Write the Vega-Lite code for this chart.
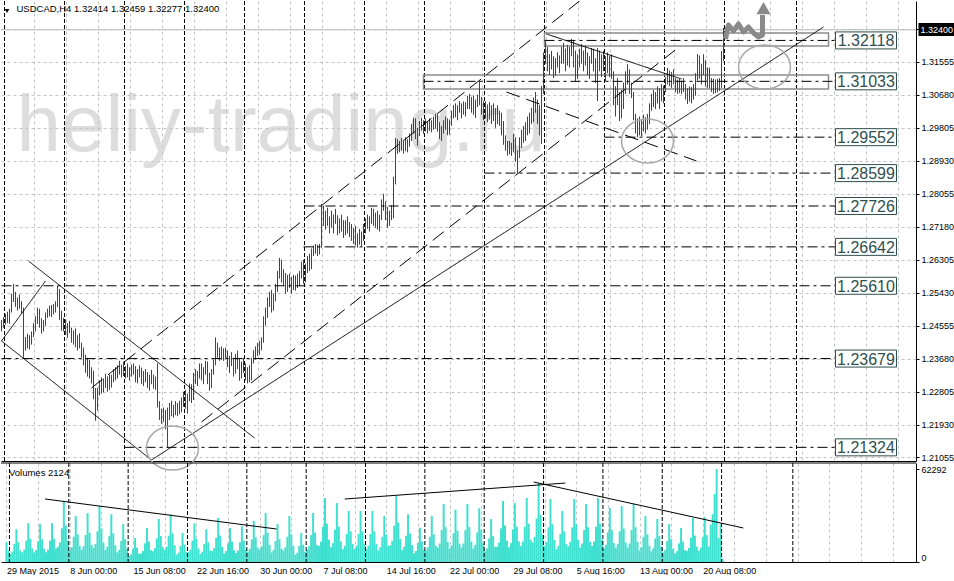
{
"$schema":"https://vega.github.io/schema/vega-lite/v6.json",
"padding":0,
"background":"white",
"spacing":2,
"bounds":"flush",
"config":{"view":{"stroke":null},"font":"Liberation Sans",
"axis":{"labelFont":"Liberation Sans","labelFontSize":9,"labelColor":"black","domainColor":"black","domainWidth":1,"tickColor":"black","gridColor":"#C4C4C4","gridDash":[3,3],"gridWidth":1,"labelOverlap":false,"labelFlush":false,"labelBound":false}},
"datasets":{
"bars":[
{"i":0,"o":1.2450,"h":1.2470,"l":1.2440,"c":1.2462,"v":13200},
{"i":1,"o":1.2462,"h":1.2478,"l":1.2450,"c":1.2470,"v":7700},
{"i":2,"o":1.2470,"h":1.2487,"l":1.2458,"c":1.2480,"v":5500},
{"i":3,"o":1.2480,"h":1.2492,"l":1.2462,"c":1.2468,"v":7000},
{"i":4,"o":1.2468,"h":1.2500,"l":1.2460,"c":1.2495,"v":12100},
{"i":5,"o":1.2495,"h":1.2540,"l":1.2490,"c":1.2530,"v":22000},
{"i":6,"o":1.2530,"h":1.2566,"l":1.2518,"c":1.2525,"v":13200},
{"i":7,"o":1.2525,"h":1.2545,"l":1.2505,"c":1.2512,"v":7700},
{"i":8,"o":1.2512,"h":1.2530,"l":1.2495,"c":1.2522,"v":6500},
{"i":9,"o":1.2522,"h":1.2538,"l":1.2500,"c":1.2508,"v":8300},
{"i":10,"o":1.2508,"h":1.2520,"l":1.2487,"c":1.2500,"v":14300},
{"i":11,"o":1.2500,"h":1.2503,"l":1.2370,"c":1.2395,"v":26000},
{"i":12,"o":1.2395,"h":1.2425,"l":1.2389,"c":1.2418,"v":15600},
{"i":13,"o":1.2418,"h":1.2434,"l":1.2395,"c":1.2405,"v":9100},
{"i":14,"o":1.2405,"h":1.2430,"l":1.2392,"c":1.2422,"v":6400},
{"i":15,"o":1.2422,"h":1.2440,"l":1.2405,"c":1.2435,"v":8100},
{"i":16,"o":1.2435,"h":1.2462,"l":1.2425,"c":1.2455,"v":14000},
{"i":17,"o":1.2455,"h":1.2480,"l":1.2440,"c":1.2470,"v":25400},
{"i":18,"o":1.2470,"h":1.2503,"l":1.2460,"c":1.2490,"v":15200},
{"i":19,"o":1.2490,"h":1.2500,"l":1.2450,"c":1.2460,"v":8900},
{"i":20,"o":1.2460,"h":1.2475,"l":1.2434,"c":1.2448,"v":6500},
{"i":21,"o":1.2448,"h":1.2470,"l":1.2440,"c":1.2465,"v":8300},
{"i":22,"o":1.2465,"h":1.2490,"l":1.2455,"c":1.2482,"v":14300},
{"i":23,"o":1.2482,"h":1.2500,"l":1.2476,"c":1.2495,"v":26000},
{"i":24,"o":1.2495,"h":1.2508,"l":1.2480,"c":1.2488,"v":15600},
{"i":25,"o":1.2488,"h":1.2510,"l":1.2478,"c":1.2502,"v":9100},
{"i":26,"o":1.2502,"h":1.2513,"l":1.2485,"c":1.2498,"v":10300},
{"i":27,"o":1.2498,"h":1.2520,"l":1.2490,"c":1.2515,"v":13100},
{"i":28,"o":1.2515,"h":1.2561,"l":1.2505,"c":1.2540,"v":22600},
{"i":29,"o":1.2540,"h":1.2552,"l":1.2470,"c":1.2480,"v":41000},
{"i":30,"o":1.2480,"h":1.2495,"l":1.2442,"c":1.2458,"v":24600},
{"i":31,"o":1.2458,"h":1.2476,"l":1.2440,"c":1.2465,"v":14400},
{"i":32,"o":1.2465,"h":1.2472,"l":1.2430,"c":1.2440,"v":7700},
{"i":33,"o":1.2440,"h":1.2462,"l":1.2423,"c":1.2450,"v":9900},
{"i":34,"o":1.2450,"h":1.2468,"l":1.2435,"c":1.2445,"v":16900},
{"i":35,"o":1.2445,"h":1.2450,"l":1.2410,"c":1.2420,"v":30800},
{"i":36,"o":1.2420,"h":1.2442,"l":1.2405,"c":1.2435,"v":18500},
{"i":37,"o":1.2435,"h":1.2448,"l":1.2398,"c":1.2405,"v":10800},
{"i":38,"o":1.2405,"h":1.2430,"l":1.2389,"c":1.2415,"v":8200},
{"i":39,"o":1.2415,"h":1.2435,"l":1.2395,"c":1.2400,"v":10500},
{"i":40,"o":1.2400,"h":1.2410,"l":1.2370,"c":1.2380,"v":18000},
{"i":41,"o":1.2380,"h":1.2397,"l":1.2350,"c":1.2360,"v":32800},
{"i":42,"o":1.2360,"h":1.2378,"l":1.2330,"c":1.2345,"v":19700},
{"i":43,"o":1.2345,"h":1.2370,"l":1.2320,"c":1.2355,"v":11500},
{"i":44,"o":1.2355,"h":1.2365,"l":1.2315,"c":1.2325,"v":9400},
{"i":45,"o":1.2325,"h":1.2345,"l":1.2302,"c":1.2330,"v":12000},
{"i":46,"o":1.2330,"h":1.2336,"l":1.2260,"c":1.2275,"v":20600},
{"i":47,"o":1.2275,"h":1.2290,"l":1.2203,"c":1.2240,"v":37500},
{"i":48,"o":1.2240,"h":1.2290,"l":1.2230,"c":1.2282,"v":22500},
{"i":49,"o":1.2282,"h":1.2310,"l":1.2270,"c":1.2300,"v":13100},
{"i":50,"o":1.2300,"h":1.2318,"l":1.2275,"c":1.2290,"v":8000},
{"i":51,"o":1.2290,"h":1.2315,"l":1.2278,"c":1.2308,"v":10200},
{"i":52,"o":1.2308,"h":1.2328,"l":1.2290,"c":1.2298,"v":17600},
{"i":53,"o":1.2298,"h":1.2320,"l":1.2280,"c":1.2312,"v":32000},
{"i":54,"o":1.2312,"h":1.2325,"l":1.2285,"c":1.2295,"v":19200},
{"i":55,"o":1.2295,"h":1.2325,"l":1.2291,"c":1.2318,"v":11200},
{"i":56,"o":1.2318,"h":1.2340,"l":1.2305,"c":1.2332,"v":6400},
{"i":57,"o":1.2332,"h":1.2345,"l":1.2310,"c":1.2322,"v":8100},
{"i":58,"o":1.2322,"h":1.2350,"l":1.2315,"c":1.2340,"v":14000},
{"i":59,"o":1.2340,"h":1.2362,"l":1.2325,"c":1.2335,"v":25400},
{"i":60,"o":1.2335,"h":1.2352,"l":1.2318,"c":1.2345,"v":15200},
{"i":61,"o":1.2345,"h":1.2360,"l":1.2322,"c":1.2330,"v":8900},
{"i":62,"o":1.2330,"h":1.2348,"l":1.2315,"c":1.2340,"v":4000},
{"i":63,"o":1.2340,"h":1.2355,"l":1.2318,"c":1.2325,"v":5100},
{"i":64,"o":1.2325,"h":1.2345,"l":1.2310,"c":1.2338,"v":8800},
{"i":65,"o":1.2338,"h":1.2352,"l":1.2320,"c":1.2345,"v":16000},
{"i":66,"o":1.2345,"h":1.2355,"l":1.2325,"c":1.2332,"v":9600},
{"i":67,"o":1.2332,"h":1.2348,"l":1.2305,"c":1.2320,"v":5600},
{"i":68,"o":1.2320,"h":1.2340,"l":1.2302,"c":1.2335,"v":5700},
{"i":69,"o":1.2335,"h":1.2350,"l":1.2318,"c":1.2328,"v":7300},
{"i":70,"o":1.2328,"h":1.2344,"l":1.2300,"c":1.2310,"v":12500},
{"i":71,"o":1.2310,"h":1.2335,"l":1.2295,"c":1.2325,"v":22800},
{"i":72,"o":1.2325,"h":1.2340,"l":1.2305,"c":1.2315,"v":13700},
{"i":73,"o":1.2315,"h":1.2332,"l":1.2290,"c":1.2300,"v":8000},
{"i":74,"o":1.2300,"h":1.2325,"l":1.2283,"c":1.2318,"v":7200},
{"i":75,"o":1.2318,"h":1.2338,"l":1.2300,"c":1.2310,"v":9200},
{"i":76,"o":1.2310,"h":1.2325,"l":1.2288,"c":1.2305,"v":15800},
{"i":77,"o":1.2305,"h":1.2320,"l":1.2285,"c":1.2300,"v":28800},
{"i":78,"o":1.2300,"h":1.2355,"l":1.2238,"c":1.2250,"v":17300},
{"i":79,"o":1.2250,"h":1.2255,"l":1.2205,"c":1.2215,"v":10100},
{"i":80,"o":1.2215,"h":1.2235,"l":1.2195,"c":1.2225,"v":8000},
{"i":81,"o":1.2225,"h":1.2238,"l":1.2200,"c":1.2210,"v":10200},
{"i":82,"o":1.2210,"h":1.2232,"l":1.2180,"c":1.2195,"v":17600},
{"i":83,"o":1.2195,"h":1.2238,"l":1.2132,"c":1.2220,"v":32000},
{"i":84,"o":1.2220,"h":1.2250,"l":1.2205,"c":1.2240,"v":19200},
{"i":85,"o":1.2240,"h":1.2256,"l":1.2215,"c":1.2225,"v":11200},
{"i":86,"o":1.2225,"h":1.2245,"l":1.2211,"c":1.2238,"v":4900},
{"i":87,"o":1.2238,"h":1.2255,"l":1.2218,"c":1.2230,"v":6200},
{"i":88,"o":1.2230,"h":1.2250,"l":1.2215,"c":1.2245,"v":10700},
{"i":89,"o":1.2245,"h":1.2256,"l":1.2220,"c":1.2235,"v":19400},
{"i":90,"o":1.2235,"h":1.2265,"l":1.2225,"c":1.2255,"v":11600},
{"i":91,"o":1.2255,"h":1.2280,"l":1.2240,"c":1.2270,"v":6800},
{"i":92,"o":1.2270,"h":1.2285,"l":1.2235,"c":1.2245,"v":6500},
{"i":93,"o":1.2245,"h":1.2275,"l":1.2222,"c":1.2265,"v":8300},
{"i":94,"o":1.2265,"h":1.2302,"l":1.2255,"c":1.2290,"v":14300},
{"i":95,"o":1.2290,"h":1.2300,"l":1.2250,"c":1.2262,"v":26000},
{"i":96,"o":1.2262,"h":1.2330,"l":1.2258,"c":1.2325,"v":15600},
{"i":97,"o":1.2325,"h":1.2340,"l":1.2300,"c":1.2312,"v":9100},
{"i":98,"o":1.2312,"h":1.2335,"l":1.2295,"c":1.2328,"v":5500},
{"i":99,"o":1.2328,"h":1.2355,"l":1.2315,"c":1.2345,"v":7000},
{"i":100,"o":1.2345,"h":1.2355,"l":1.2310,"c":1.2320,"v":12100},
{"i":101,"o":1.2320,"h":1.2345,"l":1.2300,"c":1.2338,"v":22000},
{"i":102,"o":1.2338,"h":1.2362,"l":1.2325,"c":1.2350,"v":13200},
{"i":103,"o":1.2350,"h":1.2360,"l":1.2300,"c":1.2310,"v":7700},
{"i":104,"o":1.2310,"h":1.2330,"l":1.2283,"c":1.2295,"v":7400},
{"i":105,"o":1.2295,"h":1.2340,"l":1.2290,"c":1.2332,"v":9400},
{"i":106,"o":1.2332,"h":1.2365,"l":1.2325,"c":1.2358,"v":16200},
{"i":107,"o":1.2358,"h":1.2424,"l":1.2350,"c":1.2398,"v":29500},
{"i":108,"o":1.2398,"h":1.2410,"l":1.2370,"c":1.2380,"v":17700},
{"i":109,"o":1.2380,"h":1.2397,"l":1.2362,"c":1.2390,"v":10300},
{"i":110,"o":1.2390,"h":1.2400,"l":1.2365,"c":1.2372,"v":5700},
{"i":111,"o":1.2372,"h":1.2395,"l":1.2362,"c":1.2385,"v":7300},
{"i":112,"o":1.2385,"h":1.2397,"l":1.2368,"c":1.2378,"v":12500},
{"i":113,"o":1.2378,"h":1.2389,"l":1.2345,"c":1.2355,"v":22800},
{"i":114,"o":1.2355,"h":1.2375,"l":1.2330,"c":1.2365,"v":13700},
{"i":115,"o":1.2365,"h":1.2385,"l":1.2348,"c":1.2352,"v":8000},
{"i":116,"o":1.2352,"h":1.2370,"l":1.2320,"c":1.2335,"v":6000},
{"i":117,"o":1.2335,"h":1.2380,"l":1.2328,"c":1.2372,"v":7700},
{"i":118,"o":1.2372,"h":1.2389,"l":1.2340,"c":1.2350,"v":13200},
{"i":119,"o":1.2350,"h":1.2368,"l":1.2309,"c":1.2325,"v":24000},
{"i":120,"o":1.2325,"h":1.2360,"l":1.2315,"c":1.2350,"v":14400},
{"i":121,"o":1.2350,"h":1.2370,"l":1.2330,"c":1.2340,"v":8400},
{"i":122,"o":1.2340,"h":1.2355,"l":1.2310,"c":1.2320,"v":6900},
{"i":123,"o":1.2320,"h":1.2345,"l":1.2302,"c":1.2335,"v":8800},
{"i":124,"o":1.2335,"h":1.2350,"l":1.2305,"c":1.2315,"v":15100},
{"i":125,"o":1.2315,"h":1.2370,"l":1.2310,"c":1.2362,"v":27500},
{"i":126,"o":1.2362,"h":1.2390,"l":1.2355,"c":1.2380,"v":16500},
{"i":127,"o":1.2380,"h":1.2400,"l":1.2365,"c":1.2392,"v":9600},
{"i":128,"o":1.2392,"h":1.2410,"l":1.2375,"c":1.2385,"v":8200},
{"i":129,"o":1.2385,"h":1.2415,"l":1.2378,"c":1.2405,"v":10500},
{"i":130,"o":1.2405,"h":1.2424,"l":1.2390,"c":1.2415,"v":18000},
{"i":131,"o":1.2415,"h":1.2480,"l":1.2410,"c":1.2470,"v":32800},
{"i":132,"o":1.2470,"h":1.2503,"l":1.2455,"c":1.2495,"v":19700},
{"i":133,"o":1.2495,"h":1.2530,"l":1.2476,"c":1.2520,"v":11500},
{"i":134,"o":1.2520,"h":1.2545,"l":1.2505,"c":1.2535,"v":6400},
{"i":135,"o":1.2535,"h":1.2550,"l":1.2490,"c":1.2505,"v":8100},
{"i":136,"o":1.2505,"h":1.2540,"l":1.2495,"c":1.2530,"v":14000},
{"i":137,"o":1.2530,"h":1.2566,"l":1.2520,"c":1.2555,"v":25400},
{"i":138,"o":1.2555,"h":1.2600,"l":1.2545,"c":1.2590,"v":15200},
{"i":139,"o":1.2590,"h":1.2635,"l":1.2580,"c":1.2620,"v":8900},
{"i":140,"o":1.2620,"h":1.2630,"l":1.2570,"c":1.2585,"v":7700},
{"i":141,"o":1.2585,"h":1.2605,"l":1.2560,"c":1.2575,"v":9900},
{"i":142,"o":1.2575,"h":1.2595,"l":1.2540,"c":1.2560,"v":16900},
{"i":143,"o":1.2560,"h":1.2590,"l":1.2545,"c":1.2580,"v":30800},
{"i":144,"o":1.2580,"h":1.2593,"l":1.2555,"c":1.2565,"v":18500},
{"i":145,"o":1.2565,"h":1.2585,"l":1.2540,"c":1.2575,"v":10800},
{"i":146,"o":1.2575,"h":1.2590,"l":1.2550,"c":1.2560,"v":4900},
{"i":147,"o":1.2560,"h":1.2588,"l":1.2548,"c":1.2582,"v":6200},
{"i":148,"o":1.2582,"h":1.2593,"l":1.2555,"c":1.2570,"v":10700},
{"i":149,"o":1.2570,"h":1.2600,"l":1.2560,"c":1.2592,"v":19400},
{"i":150,"o":1.2592,"h":1.2625,"l":1.2580,"c":1.2615,"v":11600},
{"i":151,"o":1.2615,"h":1.2630,"l":1.2566,"c":1.2580,"v":6800},
{"i":152,"o":1.2580,"h":1.2620,"l":1.2570,"c":1.2610,"v":8200},
{"i":153,"o":1.2610,"h":1.2640,"l":1.2595,"c":1.2630,"v":10500},
{"i":154,"o":1.2630,"h":1.2646,"l":1.2600,"c":1.2612,"v":18000},
{"i":155,"o":1.2612,"h":1.2660,"l":1.2605,"c":1.2650,"v":32800},
{"i":156,"o":1.2650,"h":1.2668,"l":1.2640,"c":1.2655,"v":19700},
{"i":157,"o":1.2655,"h":1.2672,"l":1.2646,"c":1.2660,"v":11500},
{"i":158,"o":1.2660,"h":1.2670,"l":1.2640,"c":1.2648,"v":10700},
{"i":159,"o":1.2648,"h":1.2672,"l":1.2644,"c":1.2665,"v":13700},
{"i":160,"o":1.2665,"h":1.2778,"l":1.2662,"c":1.2760,"v":23600},
{"i":161,"o":1.2760,"h":1.2773,"l":1.2720,"c":1.2735,"v":42900},
{"i":162,"o":1.2735,"h":1.2760,"l":1.2710,"c":1.2750,"v":25700},
{"i":163,"o":1.2750,"h":1.2768,"l":1.2720,"c":1.2728,"v":15000},
{"i":164,"o":1.2728,"h":1.2745,"l":1.2700,"c":1.2738,"v":9900},
{"i":165,"o":1.2738,"h":1.2760,"l":1.2715,"c":1.2725,"v":12600},
{"i":166,"o":1.2725,"h":1.2750,"l":1.2700,"c":1.2742,"v":21700},
{"i":167,"o":1.2742,"h":1.2765,"l":1.2725,"c":1.2730,"v":39500},
{"i":168,"o":1.2730,"h":1.2748,"l":1.2695,"c":1.2710,"v":23700},
{"i":169,"o":1.2710,"h":1.2740,"l":1.2700,"c":1.2732,"v":13800},
{"i":170,"o":1.2732,"h":1.2750,"l":1.2705,"c":1.2715,"v":8600},
{"i":171,"o":1.2715,"h":1.2735,"l":1.2688,"c":1.2700,"v":10900},
{"i":172,"o":1.2700,"h":1.2735,"l":1.2695,"c":1.2728,"v":18800},
{"i":173,"o":1.2728,"h":1.2745,"l":1.2700,"c":1.2710,"v":34200},
{"i":174,"o":1.2710,"h":1.2730,"l":1.2690,"c":1.2720,"v":20500},
{"i":175,"o":1.2720,"h":1.2725,"l":1.2680,"c":1.2690,"v":12000},
{"i":176,"o":1.2690,"h":1.2715,"l":1.2672,"c":1.2705,"v":8600},
{"i":177,"o":1.2705,"h":1.2720,"l":1.2668,"c":1.2680,"v":10900},
{"i":178,"o":1.2680,"h":1.2700,"l":1.2662,"c":1.2690,"v":18800},
{"i":179,"o":1.2690,"h":1.2712,"l":1.2670,"c":1.2685,"v":34200},
{"i":180,"o":1.2685,"h":1.2705,"l":1.2665,"c":1.2698,"v":20500},
{"i":181,"o":1.2698,"h":1.2725,"l":1.2680,"c":1.2715,"v":12000},
{"i":182,"o":1.2715,"h":1.2740,"l":1.2700,"c":1.2730,"v":8600},
{"i":183,"o":1.2730,"h":1.2750,"l":1.2712,"c":1.2722,"v":10900},
{"i":184,"o":1.2722,"h":1.2745,"l":1.2705,"c":1.2738,"v":18800},
{"i":185,"o":1.2738,"h":1.2768,"l":1.2725,"c":1.2755,"v":34200},
{"i":186,"o":1.2755,"h":1.2765,"l":1.2720,"c":1.2730,"v":20500},
{"i":187,"o":1.2730,"h":1.2755,"l":1.2715,"c":1.2745,"v":12000},
{"i":188,"o":1.2745,"h":1.2760,"l":1.2710,"c":1.2725,"v":7700},
{"i":189,"o":1.2725,"h":1.2750,"l":1.2705,"c":1.2740,"v":9900},
{"i":190,"o":1.2740,"h":1.2790,"l":1.2735,"c":1.2780,"v":16900},
{"i":191,"o":1.2780,"h":1.2805,"l":1.2760,"c":1.2770,"v":30800},
{"i":192,"o":1.2770,"h":1.2785,"l":1.2735,"c":1.2750,"v":18500},
{"i":193,"o":1.2750,"h":1.2770,"l":1.2715,"c":1.2730,"v":10800},
{"i":194,"o":1.2730,"h":1.2760,"l":1.2720,"c":1.2752,"v":11100},
{"i":195,"o":1.2752,"h":1.2775,"l":1.2735,"c":1.2745,"v":14100},
{"i":196,"o":1.2745,"h":1.2850,"l":1.2740,"c":1.2840,"v":24300},
{"i":197,"o":1.2840,"h":1.2953,"l":1.2830,"c":1.2930,"v":44200},
{"i":198,"o":1.2930,"h":1.2950,"l":1.2911,"c":1.2925,"v":26500},
{"i":199,"o":1.2925,"h":1.2945,"l":1.2915,"c":1.2938,"v":15500},
{"i":200,"o":1.2938,"h":1.2953,"l":1.2920,"c":1.2930,"v":8000},
{"i":201,"o":1.2930,"h":1.2948,"l":1.2911,"c":1.2940,"v":10200},
{"i":202,"o":1.2940,"h":1.2955,"l":1.2918,"c":1.2928,"v":17600},
{"i":203,"o":1.2928,"h":1.2950,"l":1.2915,"c":1.2945,"v":32000},
{"i":204,"o":1.2945,"h":1.2965,"l":1.2930,"c":1.2955,"v":19200},
{"i":205,"o":1.2955,"h":1.2990,"l":1.2945,"c":1.2980,"v":11200},
{"i":206,"o":1.2980,"h":1.3006,"l":1.2965,"c":1.2995,"v":5800},
{"i":207,"o":1.2995,"h":1.3005,"l":1.2950,"c":1.2960,"v":7400},
{"i":208,"o":1.2960,"h":1.2980,"l":1.2932,"c":1.2970,"v":12700},
{"i":209,"o":1.2970,"h":1.2998,"l":1.2958,"c":1.2990,"v":23000},
{"i":210,"o":1.2990,"h":1.3006,"l":1.2972,"c":1.2982,"v":13800},
{"i":211,"o":1.2982,"h":1.3000,"l":1.2964,"c":1.2992,"v":8100},
{"i":212,"o":1.2992,"h":1.3004,"l":1.2970,"c":1.2978,"v":7700},
{"i":213,"o":1.2978,"h":1.2998,"l":1.2965,"c":1.2990,"v":9900},
{"i":214,"o":1.2990,"h":1.3005,"l":1.2972,"c":1.2980,"v":16900},
{"i":215,"o":1.2980,"h":1.3000,"l":1.2968,"c":1.2995,"v":30800},
{"i":216,"o":1.2995,"h":1.3010,"l":1.2975,"c":1.2985,"v":18500},
{"i":217,"o":1.2985,"h":1.3017,"l":1.2978,"c":1.3008,"v":10800},
{"i":218,"o":1.3008,"h":1.3015,"l":1.2970,"c":1.2978,"v":9700},
{"i":219,"o":1.2978,"h":1.2995,"l":1.2950,"c":1.2962,"v":12400},
{"i":220,"o":1.2962,"h":1.2985,"l":1.2945,"c":1.2975,"v":21400},
{"i":221,"o":1.2975,"h":1.3000,"l":1.2965,"c":1.2992,"v":38900},
{"i":222,"o":1.2992,"h":1.3010,"l":1.2975,"c":1.2985,"v":23300},
{"i":223,"o":1.2985,"h":1.3005,"l":1.2960,"c":1.2970,"v":13600},
{"i":224,"o":1.2970,"h":1.3002,"l":1.2962,"c":1.2995,"v":8800},
{"i":225,"o":1.2995,"h":1.3025,"l":1.2985,"c":1.3018,"v":11200},
{"i":226,"o":1.3018,"h":1.3040,"l":1.3005,"c":1.3030,"v":19300},
{"i":227,"o":1.3030,"h":1.3045,"l":1.3008,"c":1.3015,"v":35000},
{"i":228,"o":1.3015,"h":1.3040,"l":1.3000,"c":1.3035,"v":21000},
{"i":229,"o":1.3035,"h":1.3051,"l":1.3020,"c":1.3028,"v":12300},
{"i":230,"o":1.3028,"h":1.3045,"l":1.3005,"c":1.3040,"v":9700},
{"i":231,"o":1.3040,"h":1.3050,"l":1.3015,"c":1.3022,"v":12400},
{"i":232,"o":1.3022,"h":1.3048,"l":1.3010,"c":1.3042,"v":21400},
{"i":233,"o":1.3042,"h":1.3065,"l":1.3030,"c":1.3055,"v":38900},
{"i":234,"o":1.3055,"h":1.3070,"l":1.3030,"c":1.3040,"v":23300},
{"i":235,"o":1.3040,"h":1.3062,"l":1.3020,"c":1.3050,"v":13600},
{"i":236,"o":1.3050,"h":1.3066,"l":1.3015,"c":1.3025,"v":9000},
{"i":237,"o":1.3025,"h":1.3055,"l":1.3006,"c":1.3045,"v":11500},
{"i":238,"o":1.3045,"h":1.3068,"l":1.3035,"c":1.3060,"v":19800},
{"i":239,"o":1.3060,"h":1.3104,"l":1.3040,"c":1.3055,"v":36000},
{"i":240,"o":1.3055,"h":1.3062,"l":1.3015,"c":1.3030,"v":21600},
{"i":241,"o":1.3030,"h":1.3051,"l":1.3000,"c":1.3040,"v":12600},
{"i":242,"o":1.3040,"h":1.3050,"l":1.3005,"c":1.3015,"v":7200},
{"i":243,"o":1.3015,"h":1.3042,"l":1.2995,"c":1.3035,"v":9200},
{"i":244,"o":1.3035,"h":1.3048,"l":1.3002,"c":1.3010,"v":15800},
{"i":245,"o":1.3010,"h":1.3040,"l":1.2990,"c":1.3030,"v":28800},
{"i":246,"o":1.3030,"h":1.3045,"l":1.2998,"c":1.3005,"v":17300},
{"i":247,"o":1.3005,"h":1.3032,"l":1.2980,"c":1.3022,"v":10100},
{"i":248,"o":1.3022,"h":1.3040,"l":1.2990,"c":1.3000,"v":10200},
{"i":249,"o":1.3000,"h":1.3025,"l":1.2985,"c":1.3012,"v":13100},
{"i":250,"o":1.3012,"h":1.3020,"l":1.2960,"c":1.2970,"v":22500},
{"i":251,"o":1.2970,"h":1.2998,"l":1.2935,"c":1.2945,"v":40900},
{"i":252,"o":1.2945,"h":1.2960,"l":1.2919,"c":1.2930,"v":24500},
{"i":253,"o":1.2930,"h":1.2945,"l":1.2906,"c":1.2935,"v":14300},
{"i":254,"o":1.2935,"h":1.2945,"l":1.2910,"c":1.2918,"v":9900},
{"i":255,"o":1.2918,"h":1.2940,"l":1.2906,"c":1.2925,"v":12600},
{"i":256,"o":1.2925,"h":1.2964,"l":1.2915,"c":1.2950,"v":21700},
{"i":257,"o":1.2950,"h":1.2955,"l":1.2890,"c":1.2900,"v":39500},
{"i":258,"o":1.2900,"h":1.2920,"l":1.2860,"c":1.2910,"v":23700},
{"i":259,"o":1.2910,"h":1.2955,"l":1.2900,"c":1.2945,"v":13800},
{"i":260,"o":1.2945,"h":1.2975,"l":1.2927,"c":1.2968,"v":10700},
{"i":261,"o":1.2968,"h":1.2985,"l":1.2940,"c":1.2955,"v":13700},
{"i":262,"o":1.2955,"h":1.2995,"l":1.2945,"c":1.2988,"v":23600},
{"i":263,"o":1.2988,"h":1.3010,"l":1.2960,"c":1.2975,"v":42900},
{"i":264,"o":1.2975,"h":1.3020,"l":1.2965,"c":1.3012,"v":25700},
{"i":265,"o":1.3012,"h":1.3033,"l":1.2990,"c":1.3005,"v":15000},
{"i":266,"o":1.3005,"h":1.3060,"l":1.2995,"c":1.3050,"v":13200},
{"i":267,"o":1.3050,"h":1.3075,"l":1.3020,"c":1.3030,"v":16900},
{"i":268,"o":1.3030,"h":1.3055,"l":1.2990,"c":1.3010,"v":29100},
{"i":269,"o":1.3010,"h":1.3040,"l":1.2960,"c":1.2985,"v":52900},
{"i":270,"o":1.2985,"h":1.3091,"l":1.2937,"c":1.3080,"v":31700},
{"i":271,"o":1.3080,"h":1.3180,"l":1.3070,"c":1.3165,"v":18500},
{"i":272,"o":1.3165,"h":1.3210,"l":1.3150,"c":1.3185,"v":10600},
{"i":273,"o":1.3185,"h":1.3195,"l":1.3130,"c":1.3145,"v":13500},
{"i":274,"o":1.3145,"h":1.3175,"l":1.3120,"c":1.3160,"v":23200},
{"i":275,"o":1.3160,"h":1.3184,"l":1.3135,"c":1.3150,"v":42200},
{"i":276,"o":1.3150,"h":1.3170,"l":1.3112,"c":1.3128,"v":25300},
{"i":277,"o":1.3128,"h":1.3165,"l":1.3118,"c":1.3158,"v":14800},
{"i":278,"o":1.3158,"h":1.3180,"l":1.3140,"c":1.3150,"v":8600},
{"i":279,"o":1.3150,"h":1.3172,"l":1.3125,"c":1.3165,"v":10900},
{"i":280,"o":1.3165,"h":1.3195,"l":1.3150,"c":1.3185,"v":18800},
{"i":281,"o":1.3185,"h":1.3205,"l":1.3150,"c":1.3160,"v":34200},
{"i":282,"o":1.3160,"h":1.3190,"l":1.3130,"c":1.3180,"v":20500},
{"i":283,"o":1.3180,"h":1.3200,"l":1.3145,"c":1.3155,"v":12000},
{"i":284,"o":1.3155,"h":1.3195,"l":1.3140,"c":1.3188,"v":10600},
{"i":285,"o":1.3188,"h":1.3216,"l":1.3170,"c":1.3200,"v":13500},
{"i":286,"o":1.3200,"h":1.3212,"l":1.3140,"c":1.3152,"v":23200},
{"i":287,"o":1.3152,"h":1.3185,"l":1.3104,"c":1.3120,"v":42200},
{"i":288,"o":1.3120,"h":1.3175,"l":1.3110,"c":1.3165,"v":25300},
{"i":289,"o":1.3165,"h":1.3190,"l":1.3140,"c":1.3178,"v":14800},
{"i":290,"o":1.3178,"h":1.3202,"l":1.3150,"c":1.3160,"v":9700},
{"i":291,"o":1.3160,"h":1.3185,"l":1.3130,"c":1.3175,"v":12400},
{"i":292,"o":1.3175,"h":1.3198,"l":1.3145,"c":1.3155,"v":21400},
{"i":293,"o":1.3155,"h":1.3180,"l":1.3120,"c":1.3140,"v":38900},
{"i":294,"o":1.3140,"h":1.3170,"l":1.3110,"c":1.3160,"v":23300},
{"i":295,"o":1.3160,"h":1.3192,"l":1.3150,"c":1.3180,"v":13600},
{"i":296,"o":1.3180,"h":1.3190,"l":1.3130,"c":1.3140,"v":10700},
{"i":297,"o":1.3140,"h":1.3165,"l":1.3099,"c":1.3110,"v":13700},
{"i":298,"o":1.3110,"h":1.3192,"l":1.3051,"c":1.3170,"v":23600},
{"i":299,"o":1.3170,"h":1.3185,"l":1.3130,"c":1.3145,"v":42900},
{"i":300,"o":1.3145,"h":1.3175,"l":1.3115,"c":1.3165,"v":25700},
{"i":301,"o":1.3165,"h":1.3184,"l":1.3130,"c":1.3140,"v":15000},
{"i":302,"o":1.3140,"h":1.3170,"l":1.3104,"c":1.3158,"v":9100},
{"i":303,"o":1.3158,"h":1.3180,"l":1.3125,"c":1.3135,"v":11600},
{"i":304,"o":1.3135,"h":1.3170,"l":1.3115,"c":1.3155,"v":19900},
{"i":305,"o":1.3155,"h":1.3175,"l":1.3110,"c":1.3120,"v":36200},
{"i":306,"o":1.3120,"h":1.3130,"l":1.3040,"c":1.3055,"v":21700},
{"i":307,"o":1.3055,"h":1.3090,"l":1.3010,"c":1.3070,"v":12700},
{"i":308,"o":1.3070,"h":1.3112,"l":1.3040,"c":1.3050,"v":9400},
{"i":309,"o":1.3050,"h":1.3075,"l":1.2998,"c":1.3020,"v":12000},
{"i":310,"o":1.3020,"h":1.3080,"l":1.3005,"c":1.3065,"v":20600},
{"i":311,"o":1.3065,"h":1.3100,"l":1.3030,"c":1.3085,"v":37500},
{"i":312,"o":1.3085,"h":1.3130,"l":1.3070,"c":1.3120,"v":22500},
{"i":313,"o":1.3120,"h":1.3149,"l":1.3095,"c":1.3110,"v":13100},
{"i":314,"o":1.3110,"h":1.3135,"l":1.3070,"c":1.3080,"v":9700},
{"i":315,"o":1.3080,"h":1.3100,"l":1.3059,"c":1.3070,"v":12400},
{"i":316,"o":1.3070,"h":1.3075,"l":1.3000,"c":1.3010,"v":21400},
{"i":317,"o":1.3010,"h":1.3017,"l":1.2965,"c":1.2975,"v":38900},
{"i":318,"o":1.2975,"h":1.3005,"l":1.2955,"c":1.2990,"v":23300},
{"i":319,"o":1.2990,"h":1.3010,"l":1.2960,"c":1.2970,"v":13600},
{"i":320,"o":1.2970,"h":1.3000,"l":1.2958,"c":1.2992,"v":7700},
{"i":321,"o":1.2992,"h":1.3015,"l":1.2970,"c":1.2985,"v":9900},
{"i":322,"o":1.2985,"h":1.3008,"l":1.2965,"c":1.3000,"v":16900},
{"i":323,"o":1.3000,"h":1.3017,"l":1.2975,"c":1.2995,"v":30800},
{"i":324,"o":1.2995,"h":1.3045,"l":1.2990,"c":1.3040,"v":18500},
{"i":325,"o":1.3040,"h":1.3070,"l":1.3025,"c":1.3060,"v":10800},
{"i":326,"o":1.3060,"h":1.3080,"l":1.3035,"c":1.3045,"v":7200},
{"i":327,"o":1.3045,"h":1.3075,"l":1.3030,"c":1.3068,"v":9200},
{"i":328,"o":1.3068,"h":1.3090,"l":1.3045,"c":1.3055,"v":15800},
{"i":329,"o":1.3055,"h":1.3085,"l":1.3030,"c":1.3075,"v":28800},
{"i":330,"o":1.3075,"h":1.3096,"l":1.3050,"c":1.3060,"v":17300},
{"i":331,"o":1.3060,"h":1.3092,"l":1.3045,"c":1.3085,"v":10100},
{"i":332,"o":1.3085,"h":1.3115,"l":1.3075,"c":1.3105,"v":6400},
{"i":333,"o":1.3105,"h":1.3139,"l":1.3095,"c":1.3120,"v":8100},
{"i":334,"o":1.3120,"h":1.3132,"l":1.3090,"c":1.3100,"v":14000},
{"i":335,"o":1.3100,"h":1.3128,"l":1.3086,"c":1.3118,"v":25400},
{"i":336,"o":1.3118,"h":1.3135,"l":1.3095,"c":1.3105,"v":15200},
{"i":337,"o":1.3105,"h":1.3112,"l":1.3075,"c":1.3085,"v":8900},
{"i":338,"o":1.3085,"h":1.3108,"l":1.3070,"c":1.3098,"v":5700},
{"i":339,"o":1.3098,"h":1.3110,"l":1.3072,"c":1.3080,"v":7300},
{"i":340,"o":1.3080,"h":1.3105,"l":1.3070,"c":1.3095,"v":12500},
{"i":341,"o":1.3095,"h":1.3112,"l":1.3075,"c":1.3082,"v":22800},
{"i":342,"o":1.3082,"h":1.3096,"l":1.3055,"c":1.3065,"v":13700},
{"i":343,"o":1.3065,"h":1.3085,"l":1.3043,"c":1.3075,"v":8000},
{"i":344,"o":1.3075,"h":1.3090,"l":1.3050,"c":1.3060,"v":7400},
{"i":345,"o":1.3060,"h":1.3088,"l":1.3045,"c":1.3080,"v":9400},
{"i":346,"o":1.3080,"h":1.3096,"l":1.3055,"c":1.3070,"v":16200},
{"i":347,"o":1.3070,"h":1.3125,"l":1.3065,"c":1.3118,"v":29500},
{"i":348,"o":1.3118,"h":1.3176,"l":1.3105,"c":1.3160,"v":17700},
{"i":349,"o":1.3160,"h":1.3172,"l":1.3110,"c":1.3125,"v":10300},
{"i":350,"o":1.3125,"h":1.3150,"l":1.3095,"c":1.3140,"v":7500},
{"i":351,"o":1.3140,"h":1.3175,"l":1.3120,"c":1.3130,"v":9600},
{"i":352,"o":1.3130,"h":1.3160,"l":1.3090,"c":1.3105,"v":16500},
{"i":353,"o":1.3105,"h":1.3140,"l":1.3086,"c":1.3130,"v":30000},
{"i":354,"o":1.3130,"h":1.3140,"l":1.3085,"c":1.3095,"v":18000},
{"i":355,"o":1.3095,"h":1.3112,"l":1.3075,"c":1.3100,"v":10500},
{"i":356,"o":1.3100,"h":1.3110,"l":1.3070,"c":1.3085,"v":25000},
{"i":357,"o":1.3085,"h":1.3108,"l":1.3072,"c":1.3098,"v":32000},
{"i":358,"o":1.3098,"h":1.3110,"l":1.3074,"c":1.3090,"v":45600},
{"i":359,"o":1.3090,"h":1.3112,"l":1.3078,"c":1.3100,"v":62292},
{"i":360,"o":1.3100,"h":1.3184,"l":1.3086,"c":1.3170,"v":16000},
{"i":361,"o":1.3170,"h":1.3245,"l":1.3157,"c":1.32414,"v":25400},
{"i":362,"o":1.32414,"h":1.32459,"l":1.32277,"c":1.32400,"v":2124}
],
"seps":[{"i":1.5},{"i":31.5},{"i":61.5},{"i":91.5},{"i":121.5},{"i":151.5},{"i":181.5},{"i":211.5},{"i":241.5},{"i":271.5},{"i":301.5},{"i":331.5},{"i":361.5},{"i":397.5}],
"levels":[
{"p":1.32118,"a":271.5,"t":"1.32118"},
{"p":1.31033,"a":211,"t":"1.31033"},
{"p":1.29552,"a":301.5,"t":"1.29552"},
{"p":1.28599,"a":241.5,"t":"1.28599"},
{"p":1.27726,"a":151.5,"t":"1.27726"},
{"p":1.26642,"a":151,"t":"1.26642"},
{"p":1.2561,"a":0,"t":"1.25610"},
{"p":1.23679,"a":0,"t":"1.23679"},
{"p":1.21324,"a":61.5,"t":"1.21324"}
],
"zones":[{"a":271.5,"b":413.5,"p1":1.32315,"p2":1.3197},{"a":211,"b":413.5,"p1":1.31201,"p2":1.3083}],
"tl":[
{"id":"S1","s":"solid","k":0,"i":13.5,"p":1.26267},{"id":"S1","s":"solid","k":1,"i":126.5,"p":1.21573},
{"id":"S2","s":"solid","k":0,"i":0,"p":1.24146},{"id":"S2","s":"solid","k":1,"i":75,"p":1.20989},
{"id":"S3","s":"solid","k":0,"i":0,"p":1.24146},{"id":"S3","s":"solid","k":1,"i":22,"p":1.25737},
{"id":"S4","s":"solid","k":0,"i":75,"p":1.20989},{"id":"S4","s":"solid","k":1,"i":411,"p":1.32474},
{"id":"L2","s":"solid","k":0,"i":272.5,"p":1.32289},{"id":"L2","s":"solid","k":1,"i":340,"p":1.31095},
{"id":"L1","s":"dash","k":0,"i":252.5,"p":1.3075},{"id":"L1","s":"dash","k":1,"i":347.5,"p":1.2892},
{"id":"D1","s":"dash","k":0,"i":45,"p":1.22899},{"id":"D1","s":"dash","k":1,"i":289,"p":1.33164},
{"id":"D2","s":"dash","k":0,"i":100,"p":1.21997},{"id":"D2","s":"dash","k":1,"i":337.5,"p":1.31891}
],
"ell":[{"i":85.5,"p":1.21307},{"i":323,"p":1.2945},{"i":381.5,"p":1.31413}],
"arrow":[
{"k":0,"i":362,"p":1.32156},{"k":1,"i":363.5,"p":1.32527},{"k":2,"i":366,"p":1.32368},{"k":3,"i":368.5,"p":1.32554},
{"k":4,"i":371,"p":1.32342},{"k":5,"i":373.5,"p":1.32474},{"k":6,"i":376,"p":1.32315},{"k":7,"i":378.5,"p":1.32209},
{"k":8,"i":380.5,"p":1.32262},{"k":9,"i":380.5,"p":1.32793}
],
"vl":[
{"id":"V1","k":0,"i":19.5,"v":42200},{"id":"V1","k":1,"i":136.5,"v":22100},
{"id":"V2","k":0,"i":171,"v":42200},{"id":"V2","k":1,"i":282.5,"v":52900},
{"id":"V3","k":0,"i":266.5,"v":53600},{"id":"V3","k":1,"i":372.5,"v":22800}
]
},
"vconcat":[
{
"width":915,"height":460,
"layer":[
{"data":{"values":[{"t":"heliy-trading.ru"}]},
 "mark":{"type":"text","font":"Liberation Sans","fontSize":80,"color":"#C8C8C8","opacity":0.6,"align":"left","baseline":"alphabetic"},
 "encoding":{"text":{"field":"t"},
  "x":{"datum":7.5,"type":"quantitative","title":null},
  "y":{"datum":1.29185,"type":"quantitative","title":null}}},
{"data":{"values":[{"p":1.324}]},
 "mark":{"type":"rule","color":"#B8B8B8","strokeWidth":1},
 "encoding":{"y":{"field":"p","type":"quantitative","title":null}}},
{"data":{"name":"seps"},
 "mark":{"type":"rule","color":"black","strokeWidth":1,"strokeDash":[4,2]},
 "encoding":{"x":{"field":"i","type":"quantitative","title":null}}},
{"data":{"name":"zones"},
 "mark":{"type":"rect","filled":false,"color":"#8C8C8C","strokeWidth":1.5},
 "encoding":{"x":{"field":"a","type":"quantitative","title":null},"x2":{"field":"b"},
  "y":{"field":"p1","type":"quantitative","title":null},"y2":{"field":"p2"}}},
{"data":{"name":"bars"},
 "mark":{"type":"rule","color":"#2F4F4F","strokeWidth":1,"clip":true},
 "encoding":{
  "x":{"field":"i","type":"quantitative","title":null,"scale":{"domain":[-0.25,457.25],"nice":false,"zero":false},
   "axis":{"orient":"bottom","values":[16,32,48,64,80,96,112,128,144,160,176,192,208,224,240,256,272,288,304,320,336,352,368,384,400,416,432,448],"tickCount":1000,"labels":false,"ticks":false,"domain":true,"grid":true,"title":null}},
  "y":{"field":"l","type":"quantitative","title":null,"scale":{"domain":[1.20962,1.33164],"nice":false,"zero":false},
   "axis":{"orient":"right","values":[1.21055,1.2193,1.22805,1.2368,1.24555,1.2543,1.26305,1.2718,1.28055,1.2893,1.29805,1.3068,1.31555,1.3243],"tickCount":1000,"format":".5f","labelExpr":"datum.value > 1.32 ? '' : datum.label","tickSize":3,"labelPadding":2,"grid":true,"domain":true,"title":null,"labelOverlap":false,"labelFlush":false,"labelBound":false}},
  "y2":{"field":"h"}}},
{"data":{"name":"levels"},
 "mark":{"type":"rule","color":"black","strokeWidth":1,"strokeDash":[10,4,3,4],"clip":true},
 "encoding":{"x":{"field":"a","type":"quantitative","title":null},"x2":{"datum":417},
  "y":{"field":"p","type":"quantitative","title":null}}},
{"data":{"name":"tl"},
 "mark":{"type":"line","color":"black","strokeWidth":1,"clip":true},
 "encoding":{"x":{"field":"i","type":"quantitative","title":null},"y":{"field":"p","type":"quantitative","title":null},
  "detail":{"field":"id"},"order":{"field":"k"},
  "strokeDash":{"field":"s","type":"nominal","scale":{"domain":["solid","dash"],"range":[[1,0],[14,7]]},"legend":null}}},
{"data":{"name":"ell"},
 "mark":{"type":"point","shape":"M-1,0C-1,-0.47,-0.55,-0.85,0,-0.85C0.55,-0.85,1,-0.47,1,0C1,0.47,0.55,0.85,0,0.85C-0.55,0.85,-1,0.47,-1,0Z","size":2704,"filled":false,"stroke":"#A8A8A8","strokeWidth":1.5,"opacity":1},
 "encoding":{"x":{"field":"i","type":"quantitative","title":null},"y":{"field":"p","type":"quantitative","title":null}}},
{"data":{"name":"arrow"},
 "mark":{"type":"line","color":"#8A8A8A","strokeWidth":5,"strokeJoin":"round","clip":true},
 "encoding":{"x":{"field":"i","type":"quantitative","title":null},"y":{"field":"p","type":"quantitative","title":null},"order":{"field":"k"}}},
{"data":{"values":[{"i":381,"p":1.32978}]},
 "mark":{"type":"point","shape":"triangle-up","size":200,"filled":true,"color":"#8A8A8A","opacity":1,"clip":true},
 "encoding":{"x":{"field":"i","type":"quantitative","title":null},"y":{"field":"p","type":"quantitative","title":null}}},
{"data":{"name":"levels"},
 "mark":{"type":"point","shape":"M-3.05,-0.85L3.05,-0.85L3.05,0.85L-3.05,0.85Z","size":400,"filled":true,"fill":"white","stroke":"#2F4F4F","strokeWidth":1,"opacity":1},
 "encoding":{"x":{"datum":432.25,"type":"quantitative","title":null},"y":{"field":"p","type":"quantitative","title":null}}},
{"data":{"name":"levels"},
 "mark":{"type":"text","font":"Liberation Sans","fontSize":16,"color":"#2F4F4F","align":"center","baseline":"middle","dy":1},
 "encoding":{"text":{"field":"t"},"x":{"datum":432.25,"type":"quantitative","title":null},"y":{"field":"p","type":"quantitative","title":null}}},
{"data":{"values":[{"t":"USDCAD,H4  1.32414 1.32459 1.32277 1.32400"}]},
 "mark":{"type":"text","font":"Liberation Sans","fontSize":9.5,"color":"black","align":"left","baseline":"middle"},
 "encoding":{"text":{"field":"t"},"x":{"datum":7.5,"type":"quantitative","title":null},"y":{"datum":1.32952,"type":"quantitative","title":null}}},
{"data":{"values":[{"t":"menu"}]},
 "mark":{"type":"point","shape":"triangle-down","size":22,"filled":true,"color":"black","opacity":1},
 "encoding":{"x":{"datum":2.75,"type":"quantitative","title":null},"y":{"datum":1.32899,"type":"quantitative","title":null}}},
{"data":{"values":[{"t":"1.32400"}]},
 "mark":{"type":"rect","color":"black"},
 "encoding":{"x":{"datum":458.5,"type":"quantitative","title":null},"x2":{"datum":477.5},"y":{"datum":1.32581,"type":"quantitative","title":null},"y2":{"datum":1.32236}}},
{"data":{"values":[{"t":"1.32400"}]},
 "mark":{"type":"text","font":"Liberation Sans","fontSize":9,"color":"white","align":"left","baseline":"middle"},
 "encoding":{"text":{"field":"t"},"x":{"datum":459.5,"type":"quantitative","title":null},"y":{"datum":1.324,"type":"quantitative","title":null}}}
]
},
{
"width":915,"height":99,
"layer":[
{"data":{"name":"bars"},
 "mark":{"type":"bar","size":2,"color":"#40E0D0","clip":true},
 "encoding":{
  "x":{"field":"i","type":"quantitative","title":null,"scale":{"domain":[-0.25,457.25],"nice":false,"zero":false},
   "axis":{"orient":"bottom","values":[0,16,32,48,64,80,96,112,128,144,160,176,192,208,224,240,256,272,288,304,320,336,352,368,384,400,416,432,448],"tickCount":1000,
    "labelExpr":"datum.value % 32 == 0 && datum.value <= 352 ? ['29 May 2015','8 Jun 00:00','15 Jun 08:00','22 Jun 16:00','30 Jun 00:00','7 Jul 08:00','14 Jul 16:00','22 Jul 00:00','29 Jul 08:00','5 Aug 16:00','13 Aug 00:00','20 Aug 08:00'][datum.value / 32] : ''",
    "labelAlign":"left","labelBaseline":"top","labelPadding":4,
    "ticks":false,"domain":true,"grid":true,"labelOverlap":false,"labelFlush":false,"labelBound":false,"title":null}},
  "y":{"field":"v","type":"quantitative","title":null,"scale":{"domain":[0,66330],"nice":false},
   "axis":{"orient":"right","values":[0,62292],"tickCount":1000,"format":"d","tickSize":3,"labelPadding":2,"grid":false,"domain":true,"title":null,"labelFlush":false,"labelOverlap":false,
    "labelBaseline":{"condition":{"test":"datum.value == 0","value":"bottom"},"value":"middle"}}}}},
{"data":{"name":"seps"},
 "mark":{"type":"rule","color":"black","strokeWidth":1,"strokeDash":[4,2]},
 "encoding":{"x":{"field":"i","type":"quantitative","title":null}}},
{"data":{"name":"vl"},
 "mark":{"type":"line","color":"black","strokeWidth":1,"clip":true},
 "encoding":{"x":{"field":"i","type":"quantitative","title":null},"y":{"field":"v","type":"quantitative","title":null},"detail":{"field":"id"},"order":{"field":"k"}}},
{"data":{"values":[{"v":66330}]},
 "mark":{"type":"rule","color":"black","strokeWidth":1},
 "encoding":{"y":{"field":"v","type":"quantitative","title":null}}},
{"data":{"values":[{"t":"Volumes 2124"}]},
 "mark":{"type":"text","font":"Liberation Sans","fontSize":9.5,"color":"black","align":"left","baseline":"middle"},
 "encoding":{"text":{"field":"t"},"x":{"datum":1.25,"type":"quantitative","title":null},"y":{"datum":59600,"type":"quantitative","title":null}}}
]
}
]
}
